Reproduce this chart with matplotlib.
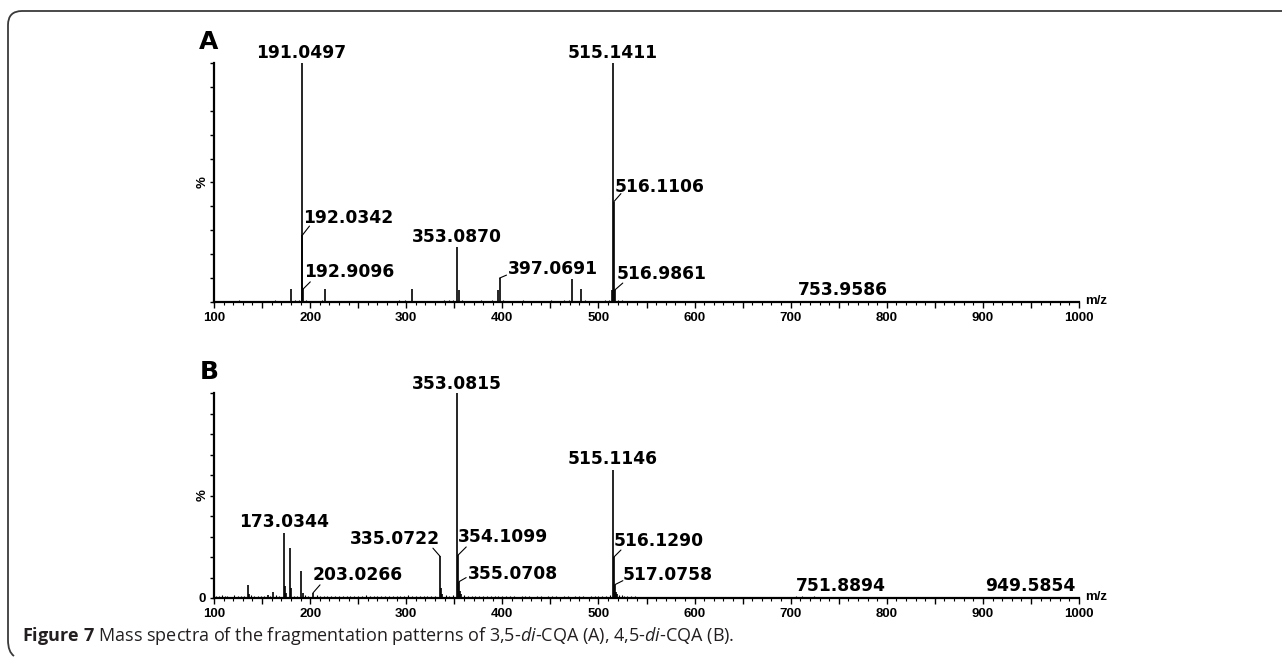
import matplotlib
matplotlib.use("Agg")
import matplotlib.pyplot as plt
from matplotlib.path import Path
from matplotlib.patches import PathPatch
from matplotlib.ticker import MultipleLocator, FuncFormatter

W, H, DPI = 1282, 660, 100

# ---------------- data ----------------
# Panel A (3,5-di-CQA): main peaks (m/z, relative intensity %)
a_peak_mz = [180.1, 191.0497, 192.0342, 192.9096, 216.0, 306.0, 353.0870, 354.6,
             395.9, 397.0691, 472.5, 482.0, 514.4, 515.1411, 516.1106, 516.9861, 753.9586]
a_peak_int = [5.3, 100.0, 28.0, 5.5, 5.3, 5.3, 23.0, 5.0,
              5.0, 10.0, 9.7, 5.3, 5.0, 100.0, 42.0, 5.0, 0.5]
# Panel A baseline noise
a_noise_mz = [105, 112, 118, 126, 133, 141, 147, 155, 163, 170, 176, 184, 188, 196, 201,
              207, 212, 221, 229, 236, 244, 252, 259, 268, 277, 285, 293, 299, 311, 318,
              327, 333, 339, 345, 349, 358, 363, 371, 378, 384, 389, 393, 401, 407, 414,
              422, 429, 436, 443, 451, 458, 464, 469, 477, 486, 493, 500, 507, 511, 520,
              524, 531, 546, 563, 588, 612, 650, 700, 720, 760, 810, 870, 930]
a_noise_int = [0.6, 0.4, 0.5, 0.7, 0.4, 0.5, 0.6, 0.4, 0.7, 0.5, 0.6, 0.8, 0.9, 0.7, 0.5,
               0.6, 0.9, 0.5, 0.4, 0.6, 0.5, 0.4, 0.6, 0.5, 0.4, 0.6, 0.7, 0.8, 0.6, 0.5,
               0.4, 0.6, 0.8, 0.7, 0.9, 0.8, 0.6, 0.5, 0.7, 0.6, 0.8, 0.6, 0.7, 0.5, 0.6,
               0.7, 0.6, 0.5, 0.6, 0.7, 0.6, 0.8, 0.7, 0.6, 0.8, 0.5, 0.6, 0.9, 0.8, 1.0,
               0.7, 0.4, 0.3, 0.3, 0.3, 0.2, 0.2, 0.2, 0.3, 0.2, 0.2, 0.2, 0.2]
a_labels = ["191.0497", "192.0342", "192.9096", "353.0870", "397.0691",
            "515.1411", "516.1106", "516.9861", "753.9586"]
a_label_int = [100.0, 28.0, 5.5, 23.0, 10.0, 100.0, 42.0, 5.0, 0.5]

# Panel B (4,5-di-CQA)
b_peak_mz = [135.3, 136.4, 156.0, 161.4, 173.0344, 174.0, 175.2, 179.0, 180.1, 191.0, 192.1,
             203.0266, 335.0722, 336.0, 337.1, 353.0815, 354.1099, 355.0708, 356.1, 357.2,
             515.1146, 516.1290, 517.0758, 518.1, 519.2, 751.8894, 949.5854]
b_peak_int = [6.5, 1.8, 1.6, 3.0, 31.9, 6.0, 2.5, 24.2, 5.0, 13.4, 2.2,
              2.5, 20.4, 5.0, 2.0, 100.0, 21.0, 8.0, 3.5, 2.0,
              62.4, 20.0, 6.5, 3.0, 2.0, 0.6, 0.5]
b_noise_mz = [102, 105, 108, 111, 114, 118, 121, 125, 128, 131, 139, 142, 146, 149, 152,
              158, 165, 168, 183, 186, 195, 198, 207, 210, 214, 218, 222, 226, 230, 234,
              238, 242, 246, 250, 254, 258, 262, 266, 270, 274, 278, 282, 286, 290, 294,
              298, 302, 306, 310, 314, 318, 322, 326, 330, 341, 345, 349, 360, 364, 368,
              372, 376, 380, 384, 388, 392, 396, 400, 404, 408, 412, 416, 420, 424, 428,
              432, 436, 440, 444, 448, 452, 456, 460, 464, 468, 472, 476, 480, 484, 488,
              492, 496, 500, 504, 508, 512, 521, 524, 527, 530, 534, 538, 545, 552, 560,
              570, 582, 594, 606, 618, 630, 642, 655, 668, 680, 694, 706, 712, 718, 724,
              731, 740, 752, 764, 776, 790, 805, 820, 836, 850, 866, 882, 898, 912, 926,
              940, 955, 968, 982, 995]
b_noise_int = [1.2, 0.8, 1.4, 0.9, 1.1, 0.7, 1.3, 0.9, 1.0, 1.2, 1.5, 0.9, 1.1, 0.8, 1.2,
               1.0, 1.3, 1.1, 1.2, 0.9, 1.4, 1.0, 1.3, 0.9, 1.1, 0.8, 1.2, 1.0, 0.9, 1.1,
               0.8, 1.0, 1.2, 0.9, 1.1, 1.3, 0.8, 1.0, 0.9, 1.1, 0.8, 1.0, 1.2, 0.9, 1.0,
               1.1, 1.3, 0.9, 1.0, 0.8, 1.1, 1.2, 0.9, 1.0, 1.4, 1.1, 1.3, 1.5, 1.2, 1.0,
               0.9, 1.1, 0.8, 1.0, 0.9, 1.1, 0.8, 1.0, 0.9, 0.8, 1.0, 0.7, 0.9, 0.8, 1.0,
               0.7, 0.9, 0.8, 0.7, 0.9, 0.8, 1.0, 0.7, 0.9, 0.8, 0.7, 0.9, 0.8, 1.0, 0.7,
               0.9, 0.8, 1.0, 0.9, 1.1, 1.3, 1.6, 1.3, 1.1, 0.9, 1.0, 0.8, 0.7, 0.6, 0.6,
               0.5, 0.6, 0.5, 0.6, 0.5, 0.6, 0.5, 0.6, 0.5, 0.6, 0.5, 0.8, 0.9, 0.7, 0.8,
               0.6, 0.5, 0.6, 0.5, 0.6, 0.5, 0.5, 0.4, 0.5, 0.4, 0.5, 0.4, 0.5, 0.4, 0.5,
               0.4, 0.5, 0.4, 0.5, 0.4]
b_labels = ["173.0344", "203.0266", "335.0722", "353.0815", "354.1099", "355.0708",
            "515.1146", "516.1290", "517.0758", "751.8894", "949.5854"]
b_label_int = [31.9, 2.5, 20.4, 100.0, 21.0, 8.0, 62.4, 20.0, 6.5, 0.6, 0.5]

caption = (r"$\mathbf{Figure\ 7}$ Mass spectra of the fragmentation patterns of "
           r"3,5-$\mathit{di}$-CQA (A), 4,5-$\mathit{di}$-CQA (B).")

# ---------------- layout (pixels) ----------------
# label: (ha, dx, dy, leader_end or None) offsets relative to peak top
layout_A = {
    "191.0497": ("center", 0, 5, None),
    "192.0342": ("left", 1, 12, (7, 9)),
    "192.9096": ("left", 1, 12, (7, 7)),
    "353.0870": ("center", 0, 5, None),
    "397.0691": ("left", 8, 4, (7, 3)),
    "515.1411": ("center", 0, 5, None),
    "516.1106": ("left", 1, 10, (7, 8)),
    "516.9861": ("left", 2, 11, (8, 7)),
    "753.9586": ("center", 0, 6, None),
}
layout_B = {
    "173.0344": ("center", 0, 6, None),
    "203.0266": ("left", 0, 13, (7, 8)),
    "335.0722": ("right", 0, 12, (-7, 8)),
    "353.0815": ("center", 0, 4, None),
    "354.1099": ("left", 0, 13, (8, 8)),
    "355.0708": ("left", 9, 3, (7, 4)),
    "515.1146": ("center", 0, 6, None),
    "516.1290": ("left", 0, 11, (7, 7)),
    "517.0758": ("left", 8, 5, (8, 4)),
    "751.8894": ("center", 0, 6, None),
    "949.5854": ("center", 0, 6, None),
}

plt.rcParams["mathtext.fontset"] = "custom"
plt.rcParams["mathtext.rm"] = "Open Sans"
plt.rcParams["mathtext.it"] = "Open Sans:italic"
plt.rcParams["mathtext.bf"] = "Open Sans:bold"

fig = plt.figure(figsize=(W / DPI, H / DPI), dpi=DPI)


def px_rect(left, top, right, bottom):
    return [left / W, 1 - bottom / H, (right - left) / W, (bottom - top) / H]


LABEL_FONT = dict(family="DejaVu Sans", weight="bold", size=12.3)
TICK_FAMILY = ["Liberation Sans", "DejaVu Sans"]
TICK_SIZE = 9.5


def draw_panel(ax, pk_mz, pk_int, nz_mz, nz_int, labels, label_int, layout, letter, zero):
    ax.vlines(nz_mz, 0, nz_int, color="black", lw=0.8)
    ax.vlines(pk_mz, 0, pk_int, color="black", lw=1.2)
    ax.set_xlim(100, 1000)
    ax.set_ylim(0, 100)
    for s in ("top", "right"):
        ax.spines[s].set_visible(False)
    for s in ("left", "bottom"):
        ax.spines[s].set_linewidth(1.6)
    ax.xaxis.set_major_locator(MultipleLocator(50))
    ax.xaxis.set_minor_locator(MultipleLocator(10))
    ax.xaxis.set_major_formatter(FuncFormatter(lambda v, p: f"{int(round(v))}" if round(v) % 100 == 0 else ""))
    ax.tick_params(axis="x", which="major", length=4.5, width=1.0, pad=2.5)
    ax.tick_params(axis="x", which="minor", length=2.5, width=0.8)
    for t in ax.get_xticklabels():
        t.set_fontfamily(TICK_FAMILY)
        t.set_fontweight("bold")
        t.set_fontsize(TICK_SIZE)
    ax.set_yticks(list(range(0, 101, 10)))
    ax.set_yticklabels(["0" if (zero and v == 0) else "" for v in range(0, 101, 10)],
                       fontfamily=TICK_FAMILY, fontweight="bold", fontsize=TICK_SIZE)
    ax.tick_params(axis="y", length=3, width=1.0, pad=3)
    ax.annotate("%", xy=(0, 50), xycoords=("axes fraction", "data"), xytext=(-11, 0),
                textcoords="offset pixels", rotation=90, ha="center", va="center",
                fontfamily=TICK_FAMILY, fontweight="bold", fontsize=9.5)
    ax.annotate("m/z", xy=(1, 0), xycoords="axes fraction", xytext=(6, 1),
                textcoords="offset pixels", ha="left", va="center",
                fontfamily=TICK_FAMILY, fontweight="bold", fontsize=9.5)
    ax.annotate(letter, xy=(0, 1), xycoords="axes fraction", xytext=(-5, 14),
                textcoords="offset pixels", ha="center", va="baseline",
                fontfamily="DejaVu Sans", fontweight="bold", fontsize=18)
    for lab, inten in zip(labels, label_int):
        mz = float(lab)
        ha, dx, dy, lead = layout[lab]
        ax.annotate(lab, xy=(mz, inten), xytext=(dx, dy), textcoords="offset pixels",
                    ha=ha, va="baseline", annotation_clip=False, **LABEL_FONT)
        if lead is not None:
            ax.annotate("", xy=(mz, inten), xytext=lead, textcoords="offset pixels",
                        annotation_clip=False,
                        arrowprops=dict(arrowstyle="-", lw=0.8, color="black",
                                        shrinkA=0, shrinkB=0))


axA = fig.add_axes(px_rect(214, 63, 1079, 302))
draw_panel(axA, a_peak_mz, a_peak_int, a_noise_mz, a_noise_int, a_labels, a_label_int,
           layout_A, "A", False)
axB = fig.add_axes(px_rect(214, 393, 1079, 598))
draw_panel(axB, b_peak_mz, b_peak_int, b_noise_mz, b_noise_int, b_labels, b_label_int,
           layout_B, "B", True)

# frame (top + left, rounded corners)
def P(x, y):
    return (x / W, 1 - y / H)

verts = [P(1282, 11), P(22, 11), P(8, 11), P(8, 25), P(8, 640), P(8, 652), P(14, 656)]
codes = [Path.MOVETO, Path.LINETO, Path.CURVE3, Path.CURVE3, Path.LINETO, Path.CURVE3, Path.CURVE3]
fig.add_artist(PathPatch(Path(verts, codes), transform=fig.transFigure, fill=False,
                         edgecolor="#3a3a3a", lw=1.3))

fig.text(22 / W, 1 - 641 / H, caption, ha="left", va="baseline",
         fontfamily="Open Sans", fontsize=13, color="#231f20")

fig.savefig("out.png", dpi=DPI)
